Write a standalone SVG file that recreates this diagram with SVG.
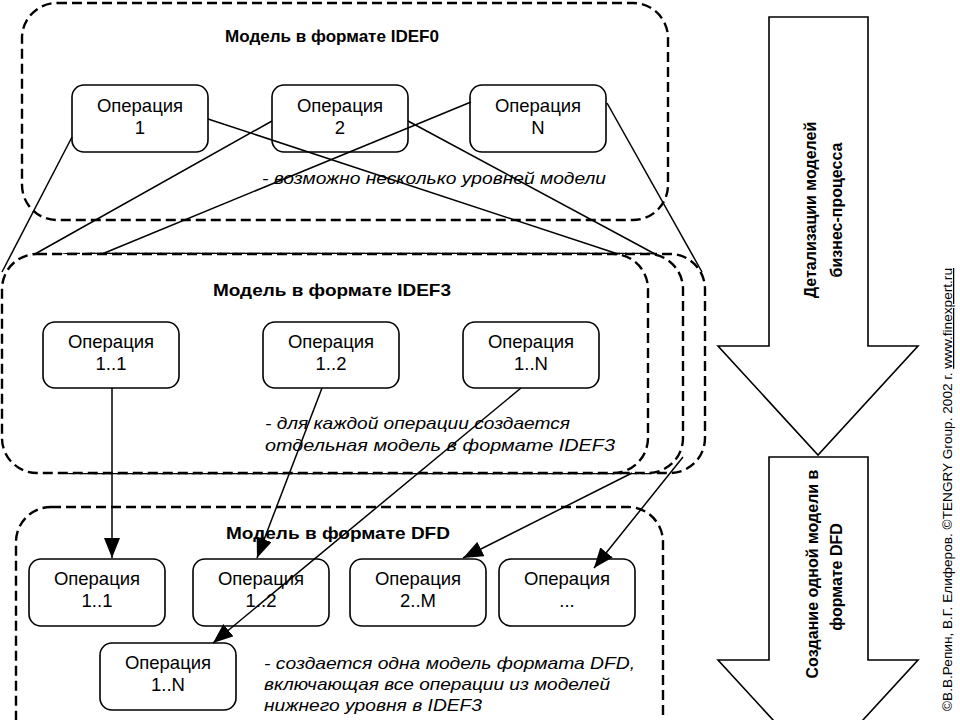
<svg xmlns="http://www.w3.org/2000/svg" width="960" height="720" viewBox="0 0 960 720">
<style>
.frame{fill:#fff;stroke:#000;stroke-width:2.4;stroke-dasharray:10 5}
.box{fill:#fff;stroke:#000;stroke-width:1.6}
.bt{font-family:"Liberation Sans",Arial,sans-serif;font-size:18.5px;text-anchor:middle;fill:#000}
.title{font-family:"Liberation Sans",Arial,sans-serif;font-size:17px;font-weight:bold;text-anchor:middle;fill:#000}
.note{font-family:"Liberation Sans",Arial,sans-serif;font-size:17px;font-style:italic;fill:#000}
.conn{stroke:#000;stroke-width:1.5;fill:none}
.big{fill:#fff;stroke:#000;stroke-width:1.6}
.at{font-family:"Liberation Sans",Arial,sans-serif;font-size:16px;font-weight:bold;text-anchor:middle;fill:#000}
.copy{font-family:"Liberation Sans",Arial,sans-serif;font-size:12.5px;fill:#000}
</style>
<defs>
<marker id="arr" viewBox="0 0 20 16" refX="20" refY="8" markerWidth="20" markerHeight="16" markerUnits="userSpaceOnUse" orient="auto">
<path d="M0,0 L20,8 L0,16 z" fill="#000"/>
</marker>
</defs>
<rect width="960" height="720" fill="#fff"/>

<g id="frame-idef0">
<rect class="frame" x="22" y="3" width="646" height="217" rx="35"/>
<text class="title" x="332" y="42" textLength="214" lengthAdjust="spacingAndGlyphs">Модель в формате IDEF0</text>
<text class="note" x="262" y="184" textLength="344" lengthAdjust="spacingAndGlyphs">- возможно несколько уровней модели</text>
</g>

<g id="frame-idef3">
<rect class="frame" x="57" y="254" width="648" height="219" rx="35"/>
<rect class="frame" x="35" y="254" width="648" height="219" rx="35"/>
<rect class="frame" x="2" y="254" width="646" height="219" rx="35"/>
<text class="title" x="332" y="296" textLength="238" lengthAdjust="spacingAndGlyphs">Модель в формате IDEF3</text>
<text class="note" x="265" y="429" textLength="305" lengthAdjust="spacingAndGlyphs">- для каждой операции создается</text>
<text class="note" x="265" y="451" textLength="350" lengthAdjust="spacingAndGlyphs">отдельная модель в формате IDEF3</text>
</g>

<g id="frame-dfd">
<rect class="frame" x="16" y="507" width="647" height="250" rx="35"/>
<text class="title" x="338" y="539" textLength="224" lengthAdjust="spacingAndGlyphs">Модель в формате DFD</text>
<text class="note" x="264" y="669" textLength="371" lengthAdjust="spacingAndGlyphs">- создается одна модель формата DFD,</text>
<text class="note" x="264" y="690" textLength="346" lengthAdjust="spacingAndGlyphs">включающая все операции из моделей</text>
<text class="note" x="264" y="711" textLength="218" lengthAdjust="spacingAndGlyphs">нижнего уровня в IDEF3</text>
</g>

<g id="op1">
<rect class="box" x="72" y="85" width="136" height="67" rx="12"/>
<text class="bt" x="140" y="112">Операция</text>
<text class="bt" x="140" y="134">1</text>
</g>
<g id="op2">
<rect class="box" x="272" y="85" width="136" height="67" rx="12"/>
<text class="bt" x="340" y="112">Операция</text>
<text class="bt" x="340" y="134">2</text>
</g>
<g id="opN">
<rect class="box" x="470" y="85" width="136" height="67" rx="12"/>
<text class="bt" x="538" y="112">Операция</text>
<text class="bt" x="538" y="134">N</text>
</g>

<g id="op3-1-1">
<rect class="box" x="43" y="322" width="136" height="66" rx="12"/>
<text class="bt" x="111" y="348">Операция</text>
<text class="bt" x="111" y="370">1..1</text>
</g>
<g id="op3-1-2">
<rect class="box" x="263" y="322" width="136" height="66" rx="12"/>
<text class="bt" x="331" y="348">Операция</text>
<text class="bt" x="331" y="370">1..2</text>
</g>
<g id="op3-1-N">
<rect class="box" x="463" y="322" width="136" height="66" rx="12"/>
<text class="bt" x="531" y="348">Операция</text>
<text class="bt" x="531" y="370">1..N</text>
</g>

<g id="dfd-1-1">
<rect class="box" x="29" y="559" width="136" height="67" rx="12"/>
<text class="bt" x="97" y="585">Операция</text>
<text class="bt" x="97" y="607">1..1</text>
</g>
<g id="dfd-1-2">
<rect class="box" x="193" y="559" width="136" height="67" rx="12"/>
<text class="bt" x="261" y="585">Операция</text>
<text class="bt" x="261" y="607">1..2</text>
</g>
<g id="dfd-2-M">
<rect class="box" x="350" y="559" width="136" height="67" rx="12"/>
<text class="bt" x="418" y="585">Операция</text>
<text class="bt" x="418" y="607">2..M</text>
</g>
<g id="dfd-etc">
<rect class="box" x="499" y="559" width="136" height="67" rx="12"/>
<text class="bt" x="567" y="585">Операция</text>
<text class="bt" x="567" y="607">...</text>
</g>
<g id="dfd-1-N">
<rect class="box" x="100" y="643" width="136" height="67" rx="12"/>
<text class="bt" x="168" y="669">Операция</text>
<text class="bt" x="168" y="691">1..N</text>
</g>

<g id="connectors">
<line class="conn" x1="72" y1="137" x2="2" y2="272"/>
<line class="conn" x1="208" y1="119" x2="618" y2="254"/>
<line class="conn" x1="272" y1="121" x2="35" y2="254"/>
<line class="conn" x1="471" y1="102" x2="102" y2="254"/>
<line class="conn" x1="408" y1="121" x2="655" y2="254"/>
<line class="conn" x1="607" y1="103" x2="702" y2="272"/>
<line class="conn" x1="112" y1="388" x2="112" y2="558" marker-end="url(#arr)"/>
<line class="conn" x1="322" y1="388" x2="257" y2="558" marker-end="url(#arr)"/>
<line class="conn" x1="521" y1="388" x2="213" y2="643" marker-end="url(#arr)"/>
<line class="conn" x1="632" y1="473" x2="463" y2="558" marker-end="url(#arr)"/>
<line class="conn" x1="683" y1="457" x2="594" y2="568" marker-end="url(#arr)"/>
</g>

<g id="arrow-detail">
<polygon class="big" points="769,17 868,17 868,346 918,346 818,455 718,346 769,346"/>
<text class="at" transform="translate(816,210) rotate(-90)">Детализации моделей</text>
<text class="at" transform="translate(842,210) rotate(-90)">бизнес-процесса</text>
</g>

<g id="arrow-dfd">
<polygon class="big" points="769,457 868,457 868,660 918,660 818,769 718,660 769,660"/>
<text class="at" transform="translate(818,574) rotate(-90)">Создание одной модели в</text>
<text class="at" transform="translate(842,577) rotate(-90)">формате DFD</text>
</g>

<g id="copyright">
<text class="copy" transform="translate(952,711) rotate(-90)" textLength="443" lengthAdjust="spacingAndGlyphs">©В.В.Репин, В.Г. Елиферов. ©TENGRY  Group. 2002 г. <tspan text-decoration="underline">www.finexpert.ru</tspan></text>
</g>
</svg>
